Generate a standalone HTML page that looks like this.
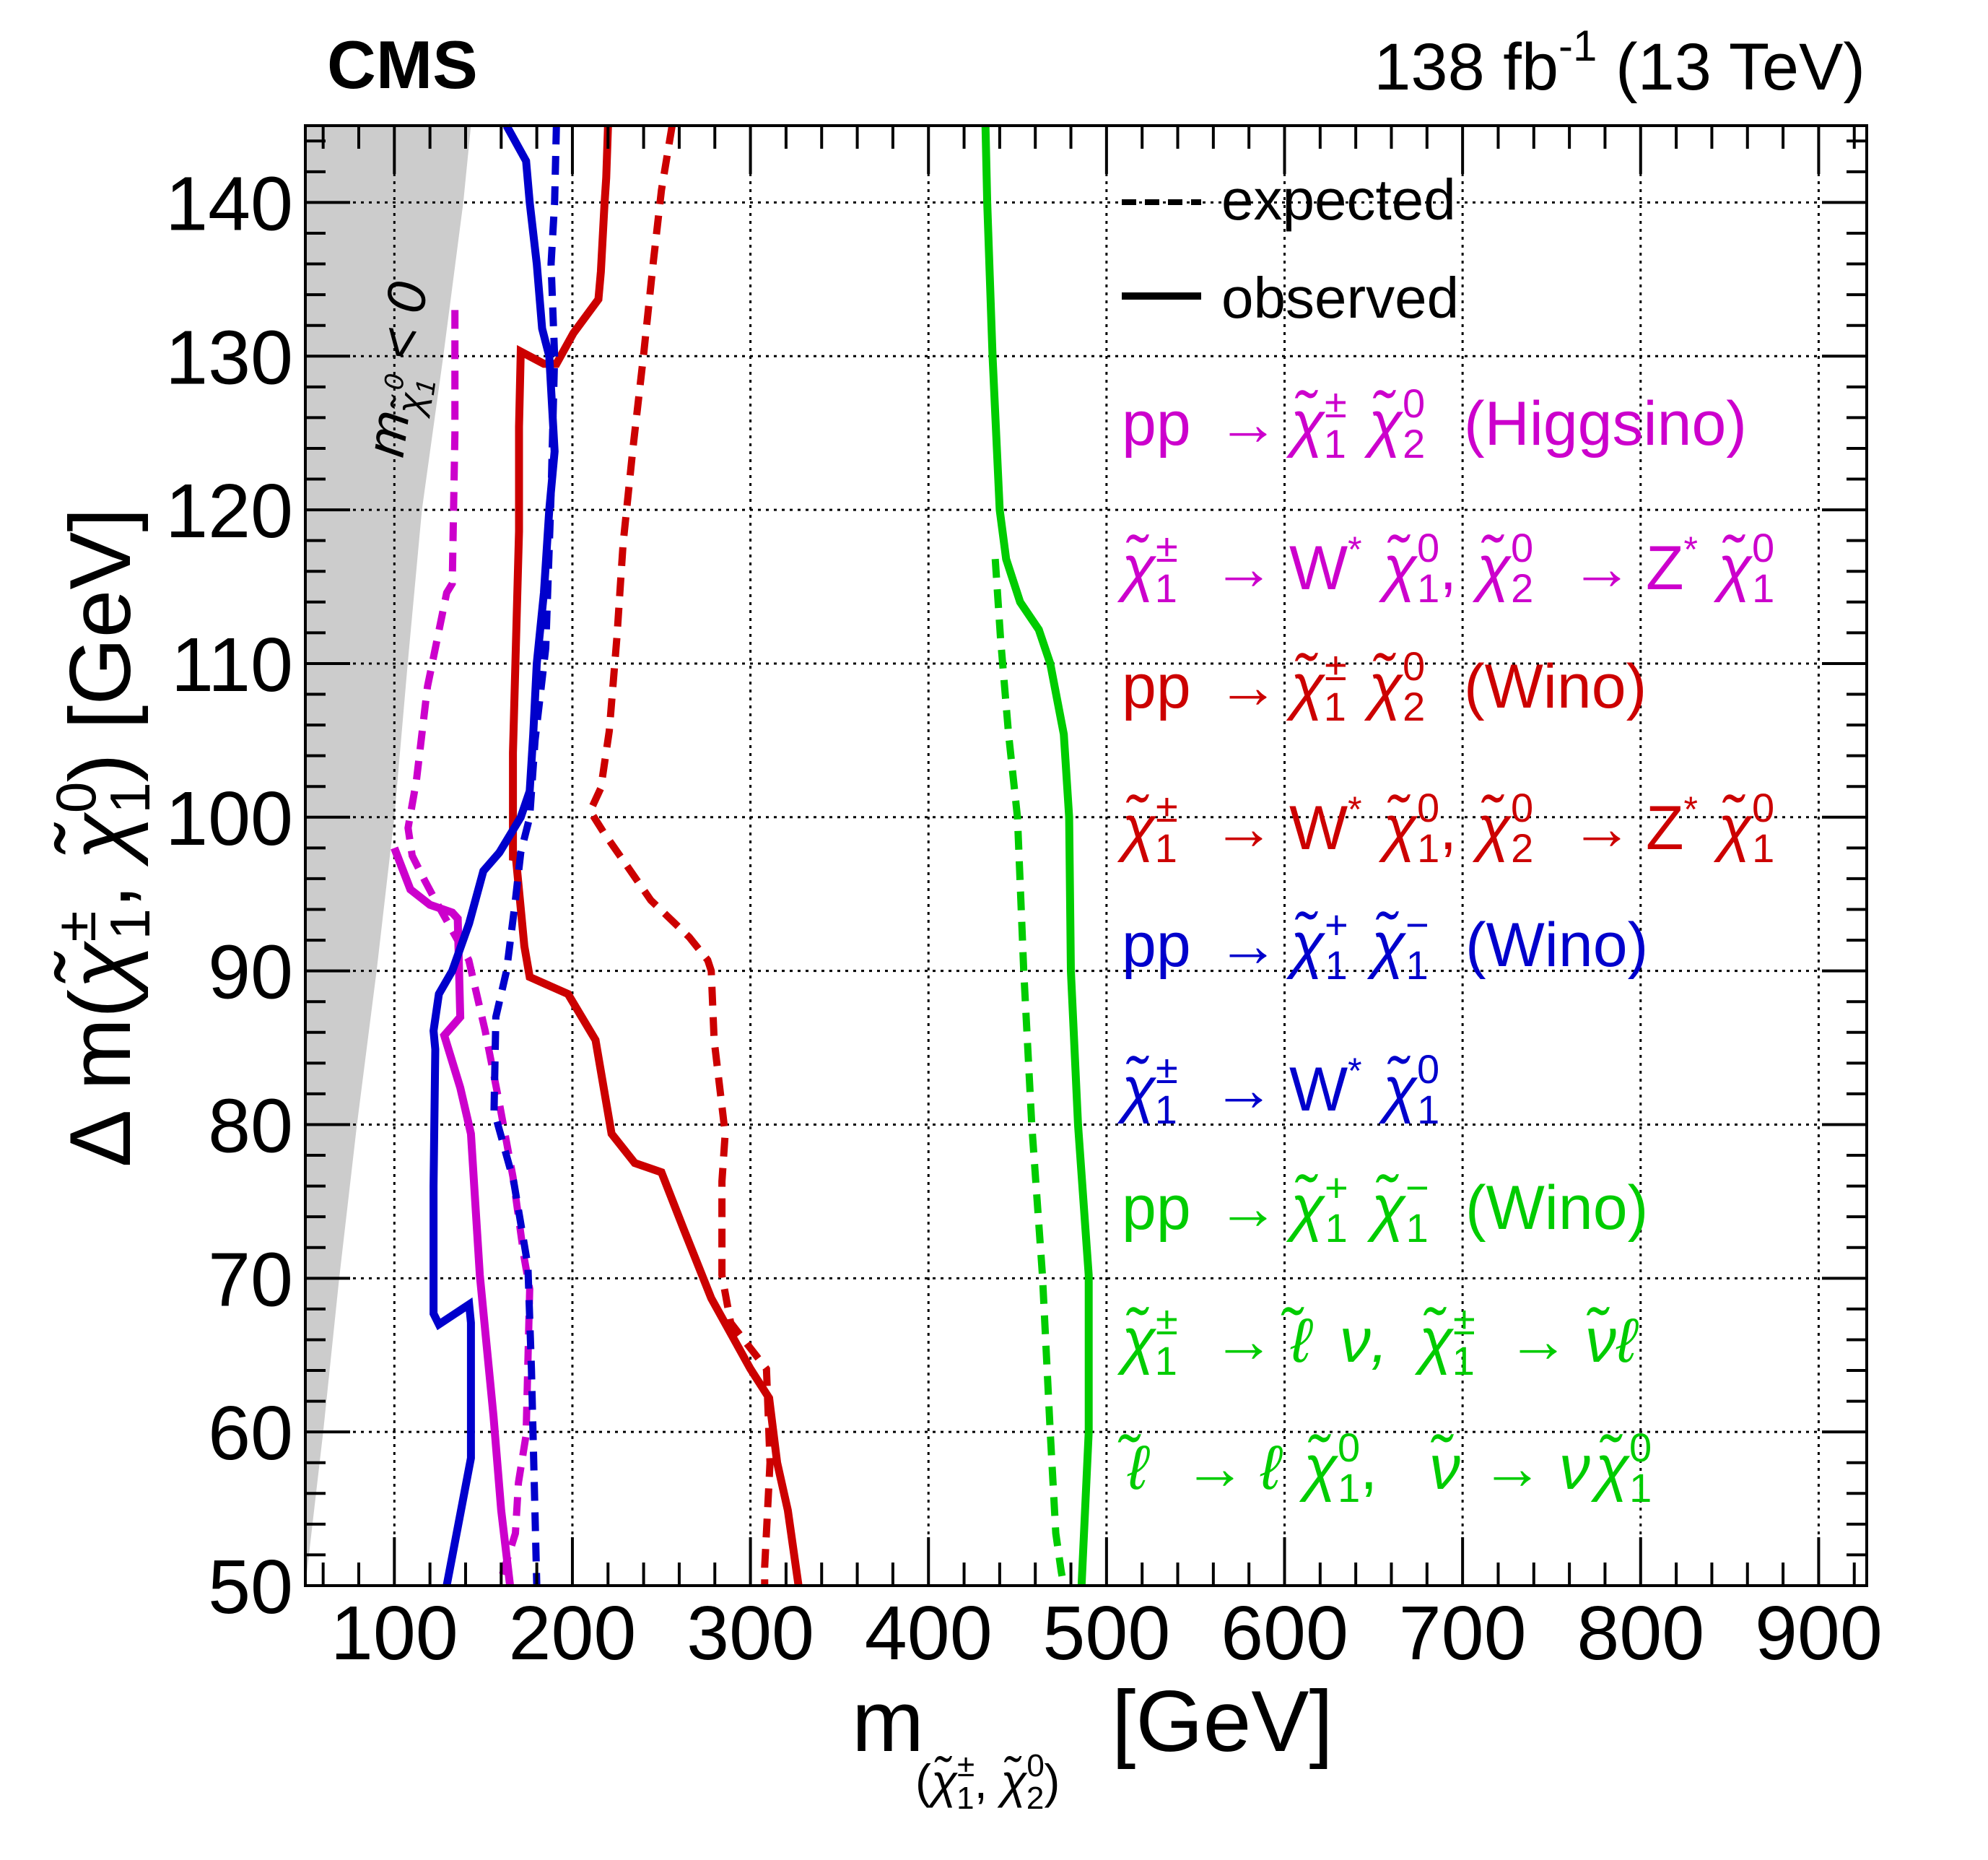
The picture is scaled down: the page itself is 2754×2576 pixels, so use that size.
<!DOCTYPE html>
<html><head><meta charset="utf-8"><style>
html,body{margin:0;padding:0;background:#fff}
svg{display:block;font-family:"Liberation Sans",sans-serif}
</style></head><body>
<svg id="chart" width="2754" height="2576" viewBox="0 0 2754 2576" xmlns="http://www.w3.org/2000/svg">
<rect width="2754" height="2576" fill="#fff"/>
<g id="band"></g>
<g id="grid"></g>
<g id="curves"></g>
<g id="ticks"></g>
<rect x="423" y="174" width="2163" height="2022" fill="none" stroke="#000" stroke-width="4"/>
<text transform="translate(575,515) rotate(-82)" text-anchor="middle" font-size="76" font-style="italic" fill="#000">m<tspan font-size="52" dy="18">χ̃</tspan><tspan font-size="38" dy="12">1</tspan><tspan font-size="38" dx="-20" dy="-44">0</tspan><tspan dy="14"> &lt; 0</tspan></text>
<text x="453" y="122" font-size="94" font-weight="bold">CMS</text>
<text x="2584" y="124" font-size="92" text-anchor="end">138 fb<tspan font-size="60" dy="-40">-1</tspan><tspan dy="40"> (13 TeV)</tspan></text>
<g id="ticklabels" font-size="106"></g>
<text transform="translate(180,1160) rotate(-90)" text-anchor="middle" font-size="120">Δ m(<tspan font-style="italic">χ̃</tspan><tspan font-size="78" dy="-48">±</tspan><tspan font-size="78" dx="-40" dy="75">1</tspan><tspan dy="-27">, </tspan><tspan font-style="italic">χ̃</tspan><tspan font-size="78" dy="-48">0</tspan><tspan font-size="78" dx="-44" dy="75">1</tspan><tspan dy="-27">) [GeV]</tspan></text>
<g>
<text x="1180" y="2425" font-size="120">m</text>
<text x="1268" y="2490" font-size="66">(<tspan font-style="italic">χ̃</tspan><tspan font-size="44" dy="-30">±</tspan><tspan font-size="44" dx="-25" dy="45">1</tspan><tspan dy="-15">, </tspan><tspan font-style="italic">χ̃</tspan><tspan font-size="44" dy="-30">0</tspan><tspan font-size="44" dx="-25" dy="45">2</tspan><tspan dy="-15">)</tspan></text>
<text x="1540" y="2425" font-size="120">[GeV]</text>
</g>
<g font-size="86">
<line x1="1554" y1="280" x2="1664" y2="280" stroke="#000" stroke-width="8" stroke-dasharray="20 12"/>
<text x="1692" y="304" font-size="80">expected</text>
<line x1="1554" y1="410" x2="1664" y2="410" stroke="#000" stroke-width="10"/>
<text x="1692" y="440" font-size="80">observed</text>

<text fill="#cc00cc" y="616"><tspan x="1554">pp</tspan><tspan x="1686">→</tspan><tspan x="1788" font-style="italic">χ̃</tspan><tspan font-size="56" dy="-38">±</tspan><tspan font-size="56" dx="-32" dy="56">1</tspan><tspan x="1896" dy="-18" font-style="italic">χ̃</tspan><tspan font-size="56" dy="-38">0</tspan><tspan font-size="56" dx="-31" dy="56">2</tspan><tspan x="2028" dy="-18">(Higgsino)</tspan></text>
<text fill="#cc00cc" y="816"><tspan x="1554" font-style="italic">χ̃</tspan><tspan font-size="56" dy="-38">±</tspan><tspan font-size="56" dx="-32" dy="56">1</tspan><tspan x="1680" dy="-18">→</tspan><tspan x="1786">W</tspan><tspan font-size="50" dy="-38">*</tspan><tspan x="1916" dy="38" font-style="italic">χ̃</tspan><tspan font-size="56" dy="-38">0</tspan><tspan font-size="56" dx="-31" dy="56">1</tspan><tspan dy="-18">,</tspan><tspan x="2046" font-style="italic">χ̃</tspan><tspan font-size="56" dy="-38">0</tspan><tspan font-size="56" dx="-31" dy="56">2</tspan><tspan x="2176" dy="-18">→</tspan><tspan x="2280">Z</tspan><tspan font-size="50" dy="-38">*</tspan><tspan x="2380" dy="38" font-style="italic">χ̃</tspan><tspan font-size="56" dy="-38">0</tspan><tspan font-size="56" dx="-31" dy="56">1</tspan></text>

<text fill="#cc0000" y="980"><tspan x="1554">pp</tspan><tspan x="1686">→</tspan><tspan x="1788" font-style="italic">χ̃</tspan><tspan font-size="56" dy="-38">±</tspan><tspan font-size="56" dx="-32" dy="56">1</tspan><tspan x="1896" dy="-18" font-style="italic">χ̃</tspan><tspan font-size="56" dy="-38">0</tspan><tspan font-size="56" dx="-31" dy="56">2</tspan><tspan x="2028" dy="-18">(Wino)</tspan></text>
<text fill="#cc0000" y="1176"><tspan x="1554" font-style="italic">χ̃</tspan><tspan font-size="56" dy="-38">±</tspan><tspan font-size="56" dx="-32" dy="56">1</tspan><tspan x="1680" dy="-18">→</tspan><tspan x="1786">W</tspan><tspan font-size="50" dy="-38">*</tspan><tspan x="1916" dy="38" font-style="italic">χ̃</tspan><tspan font-size="56" dy="-38">0</tspan><tspan font-size="56" dx="-31" dy="56">1</tspan><tspan dy="-18">,</tspan><tspan x="2046" font-style="italic">χ̃</tspan><tspan font-size="56" dy="-38">0</tspan><tspan font-size="56" dx="-31" dy="56">2</tspan><tspan x="2176" dy="-18">→</tspan><tspan x="2280">Z</tspan><tspan font-size="50" dy="-38">*</tspan><tspan x="2380" dy="38" font-style="italic">χ̃</tspan><tspan font-size="56" dy="-38">0</tspan><tspan font-size="56" dx="-31" dy="56">1</tspan></text>

<text fill="#0000cc" y="1338"><tspan x="1554">pp</tspan><tspan x="1686">→</tspan><tspan x="1788" font-style="italic">χ̃</tspan><tspan font-size="56" dy="-38">+</tspan><tspan font-size="56" dx="-32" dy="56">1</tspan><tspan x="1900" dy="-18" font-style="italic">χ̃</tspan><tspan font-size="56" dy="-38">−</tspan><tspan font-size="56" dx="-32" dy="56">1</tspan><tspan x="2030" dy="-18">(Wino)</tspan></text>
<text fill="#0000cc" y="1538"><tspan x="1554" font-style="italic">χ̃</tspan><tspan font-size="56" dy="-38">±</tspan><tspan font-size="56" dx="-32" dy="56">1</tspan><tspan x="1680" dy="-18">→</tspan><tspan x="1786">W</tspan><tspan font-size="50" dy="-38">*</tspan><tspan x="1916" dy="38" font-style="italic">χ̃</tspan><tspan font-size="56" dy="-38">0</tspan><tspan font-size="56" dx="-31" dy="56">1</tspan></text>

<text fill="#00cc00" y="1702"><tspan x="1554">pp</tspan><tspan x="1686">→</tspan><tspan x="1788" font-style="italic">χ̃</tspan><tspan font-size="56" dy="-38">+</tspan><tspan font-size="56" dx="-32" dy="56">1</tspan><tspan x="1900" dy="-18" font-style="italic">χ̃</tspan><tspan font-size="56" dy="-38">−</tspan><tspan font-size="56" dx="-32" dy="56">1</tspan><tspan x="2030" dy="-18">(Wino)</tspan></text>
<text fill="#00cc00" y="1886"><tspan x="1554" font-style="italic">χ̃</tspan><tspan font-size="56" dy="-38">±</tspan><tspan font-size="56" dx="-32" dy="56">1</tspan><tspan x="1680" dy="-18">→</tspan><tspan x="1788" font-style="italic">ℓ̃</tspan><tspan x="1856" font-style="italic">ν,</tspan><tspan x="1966" font-style="italic">χ̃</tspan><tspan font-size="56" dy="-38">±</tspan><tspan font-size="56" dx="-32" dy="56">1</tspan><tspan x="2088" dy="-18">→</tspan><tspan x="2196" font-style="italic">ν̃ℓ</tspan></text>
<text fill="#00cc00" y="2062"><tspan x="1562" font-style="italic">ℓ̃</tspan><tspan x="1640">→</tspan><tspan x="1746" font-style="italic">ℓ</tspan><tspan x="1806" font-style="italic">χ̃</tspan><tspan font-size="56" dy="-38">0</tspan><tspan font-size="56" dx="-31" dy="56">1</tspan><tspan dy="-18">,</tspan><tspan x="1980" font-style="italic">ν̃</tspan><tspan x="2052">→</tspan><tspan x="2160" font-style="italic">ν</tspan><tspan x="2210" font-style="italic">χ̃</tspan><tspan font-size="56" dy="-38">0</tspan><tspan font-size="56" dx="-31" dy="56">1</tspan></text>
</g>
</svg>
<script>
// ---- data ----
var xTicks = [100,200,300,400,500,600,700,800,900];
var yTicks = [50,60,70,80,90,100,110,120,130,140];
var bandM  = [50,50,60,69,79,90,100,107.5,115.5,127.5,138.7,143,50];
var bandDM = [50,50,60,70,80,90,100,110,120,130,140,145,145];

var magObsM  = [100,109,120,132.5,135.6,137,128,137,143,148,155.7,160,165];
var magObsDM = [98,95.3,94.3,93.8,93.4,87,85.8,82.4,79.4,70.2,61,54.9,50];
var magExpM  = [134,134,132.5,129.4,118.6,112.4,107.7,110,117,123,141.8,151,158.8,166.6,172.8,176,174,169.7,168,158.8];
var magExpDM = [133,125,115.2,114.6,108.5,102.4,99.3,97.5,95.9,94.6,90.7,86.1,81.5,76.6,71.4,69.3,59.8,56.7,53.4,50];

var redObsM  = [220,219,218,216,214.6,200.6,191,184,171,170,170,166.6,166.6,168,173,176,197.5,213,222,235,250,262.5,278,300,310.5,315,321,327];
var redObsDM = [145,141.6,139.8,135.5,133.7,131.5,129.5,129.5,130.3,125.4,118.6,104.2,97.2,97.7,91.6,89.6,88.5,85.5,79.4,77.5,76.9,73.2,68.7,64.1,62.2,58,54.9,50];
var redExpM  = [256,250,245.5,240,234,228.5,225,220.7,216,210,217.6,228.5,244,265.6,276,278,279.6,285.8,284,284,288.9,309,311,308,308];
var redExpDM = [145,140.8,136.2,130.1,124,117.8,111.7,105.6,101.9,100.4,99,97.2,94.6,92.2,90.7,90,85.5,79.4,76.3,70.2,67.1,64.1,58,51.2,50];

var bluObsM  = [163,174,176,180,183,187,190,187,184,180,178,176,171,159,150,142,132.5,125,122,123,122,122,125,142,143,143,129.4];
var bluObsDM = [145,142.7,140,136,131.8,130,123.8,120,114.6,110,105.4,101.7,100,97.7,96.5,93.1,90,88.5,86.1,84.9,76,67.7,67,68.3,67.1,58.3,50];
var bluExpM  = [191,190,188,190,188,185,179,176,171,168,163,157,156,167,175,177,180];
var bluExpDM = [145,140,136,130,121,111,105,100,97.7,94.6,90,87,80.9,76.3,70.8,64.1,50];

var grnObsM  = [432,433,436,440,443.6,451.5,462,468.4,476,479,480,484,490,490,486];
var grnObsDM = [145,140,130,120,116.8,114,112.2,110,105.4,100,90,80,70.2,60,50];
var grnExpM  = [437.5,440.5,445,450,453.5,458,464,468.4,471.5,474.6,476];
var grnExpDM = [116.8,111.6,105.4,100,90,80,70.2,60,53.4,50.9,50];

// ---- axes ----
var X0=423, X1=2586, Y0=2196, Y1=174, MMIN=50, MMAX=927, DMIN=50, DMAX=145;
function sx(m){ return X0 + (m-MMIN)*(X1-X0)/(MMAX-MMIN); }
function sy(d){ return Y0 - (d-DMIN)*(Y0-Y1)/(DMAX-DMIN); }
var NS="http://www.w3.org/2000/svg";
function mk(tag, parent, attrs){ var e=document.createElementNS(NS,tag); for(var k in attrs) e.setAttribute(k,attrs[k]); parent.appendChild(e); return e; }
function pts(ms,ds){ var s=[]; for(var i=0;i<ms.length;i++) s.push(sx(ms[i]).toFixed(1)+","+sy(ds[i]).toFixed(1)); return s.join(" "); }

var band=document.getElementById('band');
var poly=mk('polygon',band,{points:pts(bandM,bandDM),fill:'#cccccc'});



var grid=document.getElementById('grid');
xTicks.forEach(function(v){
  var l=mk('line',grid,{x1:sx(v),x2:sx(v),y1:Y1,y2:Y0,stroke:'#000','stroke-width':3,'stroke-dasharray':'4 7'});
  
  
});
yTicks.forEach(function(v){
  if(v===50) return;
  var l=mk('line',grid,{x1:X0,x2:X1,y1:sy(v),y2:sy(v),stroke:'#000','stroke-width':3,'stroke-dasharray':'4 7'});
  
  
});

var curves=document.getElementById('curves');
var series=[
 ['higgsino-expected',magExpM,magExpDM,'#cc00cc',true],
 ['higgsino-observed',magObsM,magObsDM,'#cc00cc',false],
 ['wino-wz-expected',redExpM,redExpDM,'#cc0000',true],
 ['wino-wz-observed',redObsM,redObsDM,'#cc0000',false],
 ['wino-ww-expected',bluExpM,bluExpDM,'#0000cc',true],
 ['wino-ww-observed',bluObsM,bluObsDM,'#0000cc',false],
 ['slepton-expected',grnExpM,grnExpDM,'#00cc00',true],
 ['slepton-observed',grnObsM,grnObsDM,'#00cc00',false]
];
series.forEach(function(s){
  var a={points:pts(s[1],s[2]),fill:'none',stroke:s[3],'stroke-width':s[4]?10:11,'stroke-linejoin':'miter'};
  if(s[4]) a['stroke-dasharray']='26 16';
  var p=mk('polyline',curves,a);
  
  
});

var ticks=document.getElementById('ticks');
for(var m=60;m<=920;m+=20){
  var major=(m%100===0), L=major?67:32;
  var t1=mk('line',ticks,{x1:sx(m),x2:sx(m),y1:Y0,y2:Y0-L,stroke:'#000','stroke-width':4});
  
  
  var t2=mk('line',ticks,{x1:sx(m),x2:sx(m),y1:Y1,y2:Y1+L,stroke:'#000','stroke-width':4});
  
  
}
for(var d=52;d<=144;d+=2){
  var majorY=(d%10===0), LY=majorY?62:28;
  var t3=mk('line',ticks,{x1:X0,x2:X0+LY,y1:sy(d),y2:sy(d),stroke:'#000','stroke-width':4});
  
  
  var t4=mk('line',ticks,{x1:X1,x2:X1-LY,y1:sy(d),y2:sy(d),stroke:'#000','stroke-width':4});
  
  
}

var tl=document.getElementById('ticklabels');
xTicks.forEach(function(v){
  var t=mk('text',tl,{x:sx(v),y:2298,'text-anchor':'middle'});
  t.textContent=String(v);
  
  
});
yTicks.forEach(function(v){
  var t=mk('text',tl,{x:406,y:sy(v)+38,'text-anchor':'end'});
  t.textContent=String(v);
  
  
});
</script>
</body></html>
